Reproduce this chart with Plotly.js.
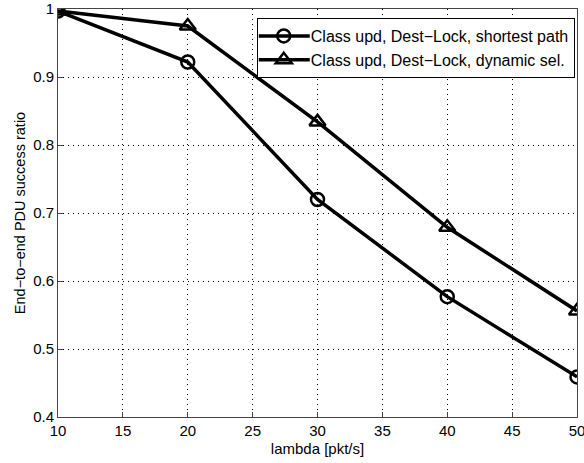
<!DOCTYPE html>
<html>
<head>
<meta charset="utf-8">
<script src="https://cdn.plot.ly/plotly-3.0.1.min.js"></script>
<style>
  html, body { margin: 0; padding: 0; background: #fff; }
  #chart { width: 584px; height: 463px; }
</style>
</head>
<body>
<div id="chart"></div>
<script>
// Offered load (packets per second)
const lambda = [10, 20, 30, 40, 50];

// End-to-end PDU success ratio per routing variant
const shortestPath = [0.997, 0.922, 0.720, 0.577, 0.459];
const dynamicSel   = [0.997, 0.975, 0.834, 0.679, 0.556];

const seriesNames = [
  'Class upd, Dest\u2212Lock, shortest path',
  'Class upd, Dest\u2212Lock, dynamic sel.'
];

const xTicks = [10, 15, 20, 25, 30, 35, 40, 45, 50];
const yTicks = [0.4, 0.5, 0.6, 0.7, 0.8, 0.9, 1.0];
const yTickText = ['0.4', '0.5', '0.6', '0.7', '0.8', '0.9', '1'];

const font = { family: 'Liberation Sans, Arial, sans-serif', color: '#000' };

const traces = [
  {
    x: lambda, y: shortestPath, name: seriesNames[0],
    type: 'scatter', mode: 'lines+markers',
    line: { color: '#000', width: 3.5 },
    marker: { symbol: 'circle-open', size: 13, color: '#000', line: { width: 2.5, color: '#000' } }
  },
  {
    x: lambda, y: dynamicSel, name: seriesNames[1],
    type: 'scatter', mode: 'lines+markers',
    line: { color: '#000', width: 3.5 },
    marker: { symbol: 'triangle-up-open', size: 14, color: '#000', line: { width: 2.5, color: '#000' } }
  }
];

const axisCommon = {
  showline: true, mirror: true, linecolor: '#444', linewidth: 1,
  ticks: 'inside', ticklen: 5, tickcolor: '#444', tickwidth: 1,
  showgrid: true, gridcolor: '#000', gridwidth: 1, griddash: '1px,4px',
  zeroline: false,
  ticklabeloverflow: 'allow',
  tickfont: Object.assign({ size: 15 }, font)
};

const layout = {
  width: 584, height: 463,
  margin: { l: 58, r: 7, t: 9, b: 46 },
  paper_bgcolor: '#fff', plot_bgcolor: '#fff',
  font: font,
  showlegend: true,
  xaxis: Object.assign({}, axisCommon, {
    range: [10, 50], tickvals: xTicks,
    ticklabelstandoff: 0,
    title: { text: 'lambda [pkt/s]', font: Object.assign({ size: 15 }, font), standoff: 5 }
  }),
  yaxis: Object.assign({}, axisCommon, {
    range: [0.4, 1.0], tickvals: yTicks, ticktext: yTickText,
    ticklabelstandoff: 0,
    title: { text: 'End\u2212to\u2212end PDU success ratio', font: Object.assign({ size: 14.5 }, font), standoff: 4 }
  }),
  legend: {
    x: 0.383, y: 0.978, xanchor: 'left', yanchor: 'top',
    bgcolor: '#fff', bordercolor: '#000', borderwidth: 1,
    font: Object.assign({ size: 16 }, font),
    itemwidth: 43, tracegroupgap: 0
  }
};

Plotly.newPlot('chart', traces, layout, { displayModeBar: false, staticPlot: true }).then(function (gd) {
  // Stretch the legend sample lines across the wider symbol column
  gd.querySelectorAll('.legend .legendlines path').forEach(function (p) {
    p.setAttribute('d', 'M1,0h51');
  });
  gd.querySelectorAll('.legend .legendsymbols .scatterpts').forEach(function (p) {
    p.setAttribute('transform', 'translate(26,0)');
  });
});
</script>
</body>
</html>
